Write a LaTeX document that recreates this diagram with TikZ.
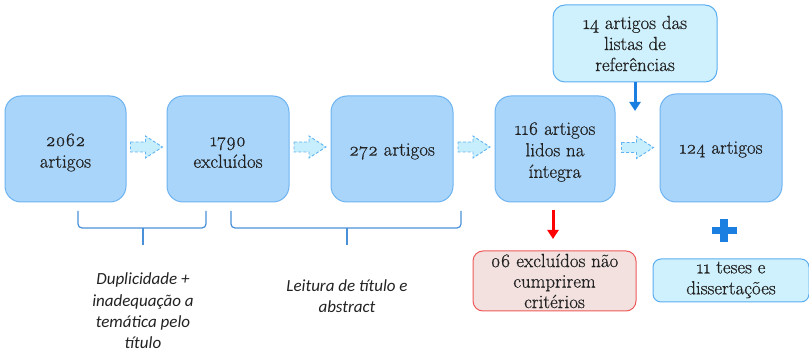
\documentclass[tikz,border=0pt]{standalone}
\usepackage{fontspec}
\setmainfont{Latin Modern Roman}[Numbers=OldStyle]
\newfontfamily\boxfont{Latin Modern Roman}[Numbers=OldStyle,FakeBold=0.6]
\newfontfamily\capfont{Carlito}
\usetikzlibrary{arrows.meta,calc}
\definecolor{boxfill}{HTML}{A9D5FB}
\definecolor{boxdraw}{HTML}{6DB3F0}
\definecolor{lightfill}{HTML}{CFF1FD}
\definecolor{lightdraw}{HTML}{5AAEF0}
\definecolor{arrfill}{HTML}{C7EEFD}
\definecolor{arrdraw}{HTML}{5FB3F2}
\definecolor{redfill}{HTML}{F2E1DF}
\definecolor{reddraw}{HTML}{EE5A5A}
\definecolor{bluearrow}{HTML}{1A7FE0}
\definecolor{bracecol}{HTML}{4A90D9}
\definecolor{txt}{HTML}{222222}
\begin{document}
\begin{tikzpicture}[x=1pt,y=-1pt,
  mainbox/.style={draw=boxdraw,line width=1pt,fill=boxfill,rounded corners=16pt,
    minimum width=121pt,minimum height=106pt,inner sep=0pt},
  boxtext/.style={align=center,text=txt,font=\boxfont\fontsize{19}{21.5}\selectfont,inner sep=0pt},
  lightbox/.style={draw=lightdraw,line width=1pt,fill=lightfill,rounded corners=12pt,
    align=center,text=txt,font=\boxfont\fontsize{19}{21}\selectfont,inner sep=0pt},
  redbox/.style={draw=reddraw,line width=1pt,fill=redfill,rounded corners=10pt,
    align=center,text=txt,font=\boxfont\fontsize{19}{20.5}\selectfont,inner sep=0pt},
  blockarrow/.style={draw=arrdraw,dash pattern=on 3pt off 2pt,fill=arrfill,line width=0.9pt},
  pics/blockarr/.style={code={
    \path[blockarrow] (-16,-5) -- (-1,-5) -- (-1,-11) -- (16,0) -- (-1,11) -- (-1,5) -- (-16,5) -- cycle;}},
  bracket/.style={draw=bracecol,line width=1.2pt,rounded corners=4pt},
  caption/.style={align=center,text=txt,font=\capfont\itshape\fontsize{17}{21.3}\selectfont}
]
\useasboundingbox (0,0) rectangle (809,352);

% main boxes
\node[mainbox] (b1) at (65.5,149) {};
\node[mainbox,minimum width=122pt] (b2) at (228,149) {};
\node[mainbox,minimum width=122pt] (b3) at (392,149) {};
\node[mainbox,minimum width=120pt] (b4) at (555,149) {};
\node[mainbox,minimum width=122pt,minimum height=108pt] (b5) at (721,148) {};
\node[boxtext] (b1t) at ($(b1.center)+(0,3.5)$) {2062\\artigos};
\node[boxtext] (b2t) at ($(b2.center)+(0,3.5)$) {1790\\excluídos};
\node[boxtext] (b3t) at ($(b3.center)+(0,2.5)$) {272 artigos};
\node[boxtext] (b4t) at ($(b4.center)+(0,3)$) {116 artigos\\lidos na\\íntegra};
\node[boxtext] (b5t) at ($(b5.center)+(0,1.5)$) {124 artigos};

% top box
\node[lightbox,minimum width=164pt,minimum height=77pt] (t) at (635,43.5)
  {14 artigos das\\listas de\\referências};

% bottom boxes
\node[redbox,minimum width=163pt,minimum height=60pt] (r) at (554.5,281)
  {06 excluídos não\\cumprirem\\critérios};
\node[lightbox,rounded corners=8pt,minimum width=156pt,minimum height=43pt,
  text depth=5pt] (s) at (731,280.5)
  {11 teses e\\dissertações};

% block arrows
\pic (a1) at ($(b1.east)!0.5!(b2.west)+(0,-2)$) {blockarr};
\pic (a2) at ($(b2.east)!0.5!(b3.west)+(0,-2)$) {blockarr};
\pic (a3) at ($(b3.east)!0.5!(b4.west)+(0,-2)$) {blockarr};
\pic (a4) at ($(b4.east)!0.5!(b5.west)+(0,-1)$) {blockarr};

% blue arrow from top box
\coordinate (tp) at (t.south |- 0,111);
\draw[bluearrow,line width=3pt,-{Triangle[width=11pt,length=9pt]}] (t.south) -- (tp);

% red arrow
\coordinate (rs) at (553,210);
\coordinate (re) at (553,239);
\draw[red,line width=3pt,-{Triangle[width=11pt,length=9pt]}] (rs) -- (re);

% plus sign
\coordinate (pl) at (724,230.5);
\fill[bluearrow] ($(pl)+(-4,-11.5)$) rectangle ($(pl)+(4,11.5)$);
\fill[bluearrow] ($(pl)+(-12.5,-3.8)$) rectangle ($(pl)+(12.5,3.8)$);

% brackets
\draw[bracket] (78,211) -- (78,228) -- (206,228) -- (206,211);
\draw[bracket] (143,228) -- (143,245);
\draw[bracket] (231,211) -- (231,228) -- (461,228) -- (461,211);
\draw[bracket] (347,228) -- (347,245);

% captions
\node[caption] (c1) at (143,311) {Duplicidade +\\inadequação a\\temática pelo\\título};
\node[caption] (c2) at (347,296.5) {Leitura de título e\\abstract};
\end{tikzpicture}
\end{document}
